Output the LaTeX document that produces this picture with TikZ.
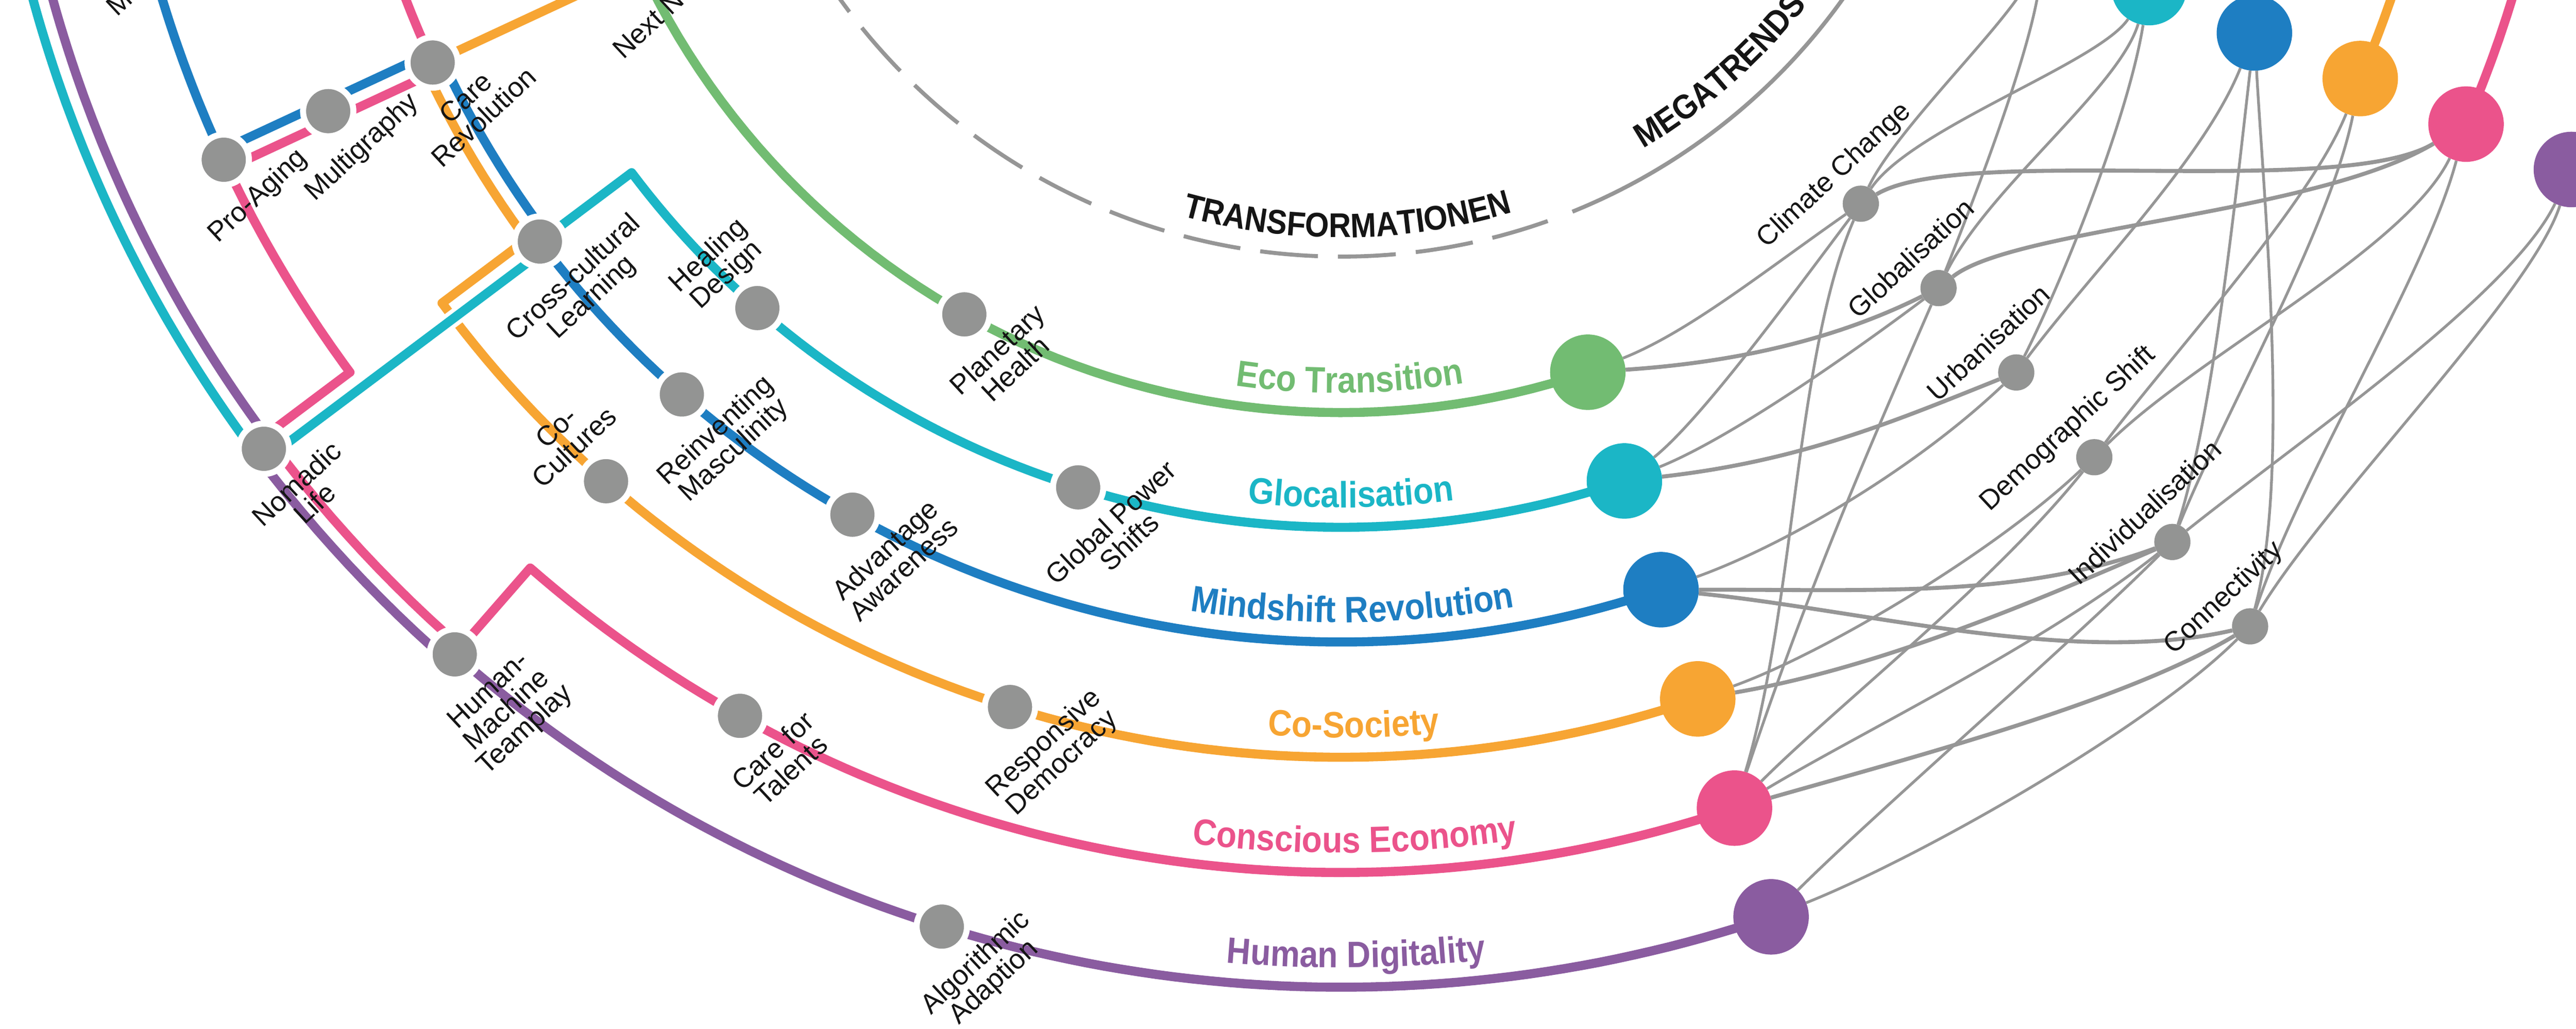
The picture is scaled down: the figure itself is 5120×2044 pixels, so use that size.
\documentclass[tikz,border=0pt]{standalone}
\usepackage{fontspec}
\setmainfont{Liberation Sans}
\newfontfamily\condfont[FakeStretch=0.9]{Liberation Sans}
\usetikzlibrary{calc,decorations.text}
\pgfdeclarelayer{bg}
\pgfdeclarelayer{lines}
\pgfsetlayers{bg,lines,main}
\definecolor{cgreen}{HTML}{72BC72}
\definecolor{cteal}{HTML}{1BB6C6}
\definecolor{cblue}{HTML}{1E7EC2}
\definecolor{corange}{HTML}{F7A533}
\definecolor{cpink}{HTML}{EB538B}
\definecolor{cpurple}{HTML}{8A5CA0}
\definecolor{cgray}{HTML}{939493}
\definecolor{clink}{HTML}{969696}
\definecolor{ctext}{HTML}{151515}
\newcommand{\defpt}[4]{\coordinate (#1) at ({2666+(#2)*sin(#3)+(#4)*cos(#3)},{-716+(#2)*cos(#3)-(#4)*sin(#3)});}
\newcommand{\metro}[2]{\draw[white,line width=34pt,line join=round] #2; \draw[#1,line width=18pt,line join=round] #2;}
\newcommand{\tlab}{\condfont\bfseries\fontsize{73}{73}\selectfont}
\newcommand{\rlab}{\condfont\bfseries\fontsize{68}{68}\selectfont}
\tikzset{
 ring/.style n args={3}{insert path={-- plot[domain=#2:#3,samples=80] ({2666+(#1)*sin(\x)},{-716+(#1)*cos(\x)})}},
 station/.style={circle,fill=cgray,draw=white,line width=12pt,minimum size=100pt,inner sep=0pt},
 bignode/.style={circle,fill=#1,minimum size=150pt,inner sep=0pt},
 mnode/.style={circle,fill=cgray,minimum size=72pt,inner sep=0pt},
 slabel/.style={rotate=43,anchor=north,align=center,inner sep=0pt,text=ctext,font=\fontsize{55}{53}\selectfont},
 ulabel/.style={rotate=43,anchor=south,align=center,inner sep=0pt,text=ctext,font=\fontsize{55}{53}\selectfont},
 mlabel/.style={rotate=43,anchor=base,inner sep=0pt,text=ctext,font=\fontsize{55}{53}\selectfont},
 lk/.style={draw=clink,line width=5.5pt},
 lkb/.style={draw=clink,line width=8pt},
}
\begin{document}
\begin{tikzpicture}[x=1pt,y=-1pt]
\useasboundingbox (0,0) rectangle (5120,2044);
\clip (0,0) rectangle (5120,2044);
% grid points
\foreach \i/\r in {1/1536,2/1764,3/1992,4/2221,5/2450,6/2678}{
  \foreach \k in {0,3,4,5,6,7,8}{
    \defpt{P\i\k}{\r}{18.6-11.95*\k}{0}
  }
}
% right-hand and megatrend positions
\defpt{Q1}{1520}{66.7}{0}
\defpt{Q2}{1748}{66.7}{0}
\defpt{Q3}{1976}{66.7}{0}
\defpt{Q4}{2205}{66.7}{0}
\defpt{Q5}{2434}{66.7}{0}
\defpt{Q6}{2662}{66.7}{0}
\defpt{N1}{1524}{42.65}{0}
\defpt{N2}{1752}{42.65}{0}
\defpt{N3}{1980}{42.65}{0}
\defpt{N4}{2209}{42.65}{0}
\defpt{N5}{2438}{42.65}{0}
\defpt{N6}{2666}{42.65}{0}
% offset points
\defpt{tA}{1992}{-53.1}{19}
\defpt{tB}{2678}{-53.1}{19}
\defpt{tC}{2697}{-53.1}{0}
\defpt{bA}{1973}{-53.1}{0}
\defpt{bB}{1992}{-65.05}{-19}
\defpt{bC}{2450}{-65.05}{-19}
\defpt{oA}{2221}{-53.1}{-19}
\defpt{oB}{1992}{-53.1}{-19}
\defpt{oC}{2011}{-53.1}{0}
\defpt{oD}{1250}{-65.05}{0}
\defpt{pA}{2659}{-41.15}{0}
\defpt{pB}{2678}{-53.1}{-19}
\defpt{pC}{2450}{-53.1}{-19}
\defpt{pD}{2450}{-65.05}{19}
\defpt{pE}{1992}{-65.05}{19}
\defpt{uA}{2697}{-41.15}{0}
\defpt{uB}{2659}{-53.1}{0}

% big transformation nodes
\node[bignode=cgreen] (L1) at (P10) {};
\node[bignode=cteal] (L2) at (P20) {};
\node[bignode=cblue] (L3) at (P30) {};
\node[bignode=corange] (L4) at (P40) {};
\node[bignode=cpink] (L5) at (P50) {};
\node[bignode=cpurple] (L6) at (P60) {};
\node[bignode=cgreen] (R1) at (Q1) {};
\node[bignode=cteal] (R2) at (Q2) {};
\node[bignode=cblue] (R3) at (Q3) {};
\node[bignode=corange] (R4) at (Q4) {};
\node[bignode=cpink] (R5) at (Q5) {};
\node[bignode=cpurple] (R6) at (Q6) {};
% megatrend nodes
\node[mnode] (M1) at (N1) {};
\node[mnode] (M2) at (N2) {};
\node[mnode] (M3) at (N3) {};
\node[mnode] (M4) at (N4) {};
\node[mnode] (M5) at (N5) {};
\node[mnode] (M6) at (N6) {};
% stations
\node[station] (stNext) at (P17) {};
\node[station] (stMent) at (P58) {};
\node[station] (stPro) at (P57) {};
\node[station] (stMulti) at (P47) {};
\node[station] (stCare) at (P37) {};
\node[station] (stCross) at (P36) {};
\node[station] (stHeal) at (P25) {};
\node[station] (stPlan) at (P14) {};
\node[station] (stReinv) at (P35) {};
\node[station] (stCoCult) at (P45) {};
\node[station] (stNomad) at (P66) {};
\node[station] (stHMT) at (P65) {};
\node[station] (stTal) at (P54) {};
\node[station] (stAdv) at (P34) {};
\node[station] (stGPS) at (P23) {};
\node[station] (stResp) at (P43) {};
\node[station] (stAlgo) at (P63) {};

% station labels
\node[slabel] at ($(stNext)+(50.5,54.1)$) {\rule{0pt}{40pt}Next Normal};
\node[slabel] at ($(stMent)+(50.5,54.1)$) {\rule{0pt}{40pt}Mental Health};
\node[slabel] at ($(stPro)+(50.5,54.1)$) {\rule{0pt}{40pt}Pro-Aging};
\node[slabel] at ($(stMulti)+(50.5,54.1)$) {\rule{0pt}{40pt}Multigraphy};
\node[slabel] at ($(stCare)+(50.5,54.1)$) {\rule{0pt}{40pt}Care\\Revolution};
\node[slabel] at ($(stCross)+(50.5,54.1)$) {\rule{0pt}{40pt}Cross-cultural\\Learning};
\node[ulabel] at ($(stHeal)+(-40.2,-43.1)$) {Healing\\Design\rule[-15pt]{0pt}{15pt}};
\node[slabel] at ($(stPlan)+(50.5,54.1)$) {\rule{0pt}{40pt}Planetary\\Health};
\node[slabel] at ($(stReinv)+(50.5,54.1)$) {\rule{0pt}{40pt}Reinventing\\Masculinity};
\node[ulabel] at ($(stCoCult)+(-40.2,-43.1)$) {Co-\\Cultures\rule[-15pt]{0pt}{15pt}};
\node[slabel] at ($(stNomad)+(50.5,54.1)$) {\rule{0pt}{40pt}Nomadic\\Life};
\node[slabel] at ($(stHMT)+(50.5,54.1)$) {\rule{0pt}{40pt}Human-\\Machine\\Teamplay};
\node[slabel] at ($(stTal)+(50.5,54.1)$) {\rule{0pt}{40pt}Care for\\Talents};
\node[slabel] at ($(stAdv)+(50.5,54.1)$) {\rule{0pt}{40pt}Advantage\\Awareness};
\node[slabel] at ($(stGPS)+(50.5,54.1)$) {\rule{0pt}{40pt}Global Power\\Shifts};
\node[slabel] at ($(stResp)+(50.5,54.1)$) {\rule{0pt}{40pt}Responsive\\Democracy};
\node[slabel] at ($(stAlgo)+(50.5,54.1)$) {\rule{0pt}{40pt}Algorithmic\\Adaption};

% megatrend labels
\node[mlabel] at ($(M1)+(-42.3,-45.3)$) {Climate Change};
\node[mlabel] at ($(M2)+(-42.3,-45.3)$) {Globalisation};
\node[mlabel] at ($(M3)+(-42.3,-45.3)$) {Urbanisation};
\node[mlabel] at ($(M4)+(-42.3,-45.3)$) {Demographic Shift};
\node[mlabel] at ($(M5)+(-42.3,-45.3)$) {Individualisation};
\node[mlabel] at ($(M6)+(-42.3,-45.3)$) {Connectivity};

% transformation labels along the rings
\path[decorate,decoration={text along path,text align=center,text={|\tlab\color{cgreen}|Eco Transition}}] plot[domain=-24.35:25.65,samples=120] ({2666+1497*sin(\x)},{-716+1497*cos(\x)});
\path[decorate,decoration={text along path,text align=center,text={|\tlab\color{cteal}|Glocalisation}}] plot[domain=-24.35:25.65,samples=120] ({2666+1725*sin(\x)},{-716+1725*cos(\x)});
\path[decorate,decoration={text along path,text align=center,text={|\tlab\color{cblue}|Mindshift Revolution}}] plot[domain=-24.35:25.65,samples=120] ({2666+1953*sin(\x)},{-716+1953*cos(\x)});
\path[decorate,decoration={text along path,text align=center,text={|\tlab\color{corange}|Co-Society}}] plot[domain=-24.35:25.65,samples=120] ({2666+2182*sin(\x)},{-716+2182*cos(\x)});
\path[decorate,decoration={text along path,text align=center,text={|\tlab\color{cpink}|Conscious Economy}}] plot[domain=-24.35:25.65,samples=120] ({2666+2411*sin(\x)},{-716+2411*cos(\x)});
\path[decorate,decoration={text along path,text align=center,text={|\tlab\color{cpurple}|Human Digitality}}] plot[domain=-24.35:25.65,samples=120] ({2666+2639*sin(\x)},{-716+2639*cos(\x)});
% ring titles
\path[decorate,decoration={text along path,text align=center,text={|\rlab\color{ctext}|TRANSFORMATIONEN}}] plot[domain=-29.4:30.6,samples=120] ({2666+1188*sin(\x)},{-716+1188*cos(\x)});
\path[decorate,decoration={text along path,text align=left,text={|\rlab\color{ctext}|MEGATRENDS}}] plot[domain=30.7:80,samples=120] ({2666+1176*sin(\x)},{-716+1176*cos(\x)});

% metro lines
\begin{pgfonlayer}{lines}
\metro{cgreen}{(P10) [ring={1536}{18.6}{-95}]}
\metro{cblue}{(P30) [ring={1992}{18.6}{-53.1}] -- (bA) [ring={1973}{-53.1}{-65.05}] -- (bB) -- (bC) -- (P57) [ring={2450}{-65.05}{-95}]}
\metro{corange}{(P40) [ring={2221}{18.6}{-53.59}] -- (oA) -- (oB) -- (oC) [ring={2011}{-53.1}{-65.05}] -- (P37) -- (P17) -- (oD)}
\metro{cpink}{(P50) [ring={2450}{18.6}{-41.15}] -- (P65) -- (pA) [ring={2659}{-41.15}{-53.1}] -- (pB) -- (pC) [ring={2450}{-53.54}{-65.05}] -- (pD) -- (pE) -- (P37) [ring={1992}{-65.05}{-95}]}
\metro{cpurple}{(P60) [ring={2678}{18.6}{-41.15}] -- (uA) [ring={2697}{-41.15}{-53.1}] -- (uB) [ring={2659}{-53.1}{-95}]}
\metro{cteal}{(P20) [ring={1764}{18.6}{-53.1}] -- (P36) -- (tA) -- (tB) -- (tC) [ring={2697}{-53.1}{-95}]}
% right-hand continuations
\draw[cgreen,line width=18pt] (Q1) [ring={1520}{66.7}{95}];
\draw[cteal,line width=18pt] (Q2) [ring={1748}{66.7}{95}];
\draw[cblue,line width=18pt] (Q3) [ring={1976}{66.7}{95}];
\draw[corange,line width=18pt] (Q4) [ring={2205}{66.7}{95}];
\draw[cpink,line width=18pt] (Q5) [ring={2434}{66.7}{95}];
\draw[cpurple,line width=18pt] (Q6) [ring={2662}{66.7}{95}];
\end{pgfonlayer}

% background: rings and links
\begin{pgfonlayer}{bg}
\draw[clink,line width=8pt,dash pattern=on 115pt off 40pt] plot[domain=-80:20,samples=160] ({2666+1226*sin(\x)},{-716+1226*cos(\x)});
\draw[clink,line width=8pt] plot[domain=22:80,samples=100] ({2666+1226*sin(\x)},{-716+1226*cos(\x)});
% left links
\draw[lk] (L1) .. controls +(200,-80) and +(-200,140) .. (M1);
\draw[lkb] (L1) .. controls +(300,-20) and +(-200,100) .. (M2);
\draw[lk] (L2) .. controls +(150,-120) and +(-150,200) .. (M1);
\draw[lk] (L2) .. controls +(200,-80) and +(-200,150) .. (M2);
\draw[lkb] (L2) .. controls +(350,-40) and +(-250,100) .. (M3);
\draw[lk] (L3) .. controls +(250,-90) and +(-200,190) .. (M3);
\draw[lkb] (L3) .. controls +(450,0) and +(-300,110) .. (M5);
\draw[lkb] (L3) .. controls +(400,40) and +(-350,80) .. (M6);
\draw[lk] (L4) .. controls +(250,-90) and +(-200,190) .. (M4);
\draw[lkb] (L4) .. controls +(350,-60) and +(-300,130) .. (M5);
\draw[lk] (L5) .. controls +(120,-400) and +(-130,300) .. (M1);
\draw[lk] (L5) .. controls +(150,-450) and +(-130,300) .. (M2);
\draw[lk] (L5) .. controls +(200,-200) and +(-200,250) .. (M4);
\draw[lk] (L5) .. controls +(250,-150) and +(-250,200) .. (M5);
\draw[lkb] (L5) .. controls +(350,-100) and +(-250,150) .. (M6);
\draw[lk] (L6) .. controls +(200,-200) and +(-200,200) .. (M5);
\draw[lk] (L6) .. controls +(300,-120) and +(-200,200) .. (M6);
% right links
\draw[lk] (M1) .. controls +(70,-150) and +(-60,150) .. (R1);
\draw[lk] (M1) .. controls +(100,-150) and +(-100,150) .. (R2);
\draw[lkb] (M1) .. controls +(200,-120) and +(-250,150) .. (R5);
\draw[lk] (M2) .. controls +(80,-200) and +(-20,200) .. (R1);
\draw[lk] (M2) .. controls +(100,-200) and +(-60,200) .. (R2);
\draw[lkb] (M2) .. controls +(150,-120) and +(-300,180) .. (R5);
\draw[lk] (M3) .. controls +(100,-200) and +(-40,250) .. (R2);
\draw[lk] (M3) .. controls +(150,-200) and +(-100,250) .. (R3);
\draw[lk] (M4) .. controls +(150,-200) and +(-100,250) .. (R4);
\draw[lk] (M4) .. controls +(200,-200) and +(-120,250) .. (R5);
\draw[lk] (M5) .. controls +(80,-250) and +(-40,350) .. (R3);
\draw[lk] (M5) .. controls +(100,-250) and +(-60,300) .. (R4);
\draw[lk] (M5) .. controls +(250,-200) and +(-120,250) .. (R6);
\draw[lk] (M6) .. controls +(80,-300) and +(20,350) .. (R3);
\draw[lk] (M6) .. controls +(100,-300) and +(-80,300) .. (R5);
\draw[lk] (M6) .. controls +(150,-250) and +(-80,250) .. (R6);
\end{pgfonlayer}
\end{tikzpicture}
\end{document}
